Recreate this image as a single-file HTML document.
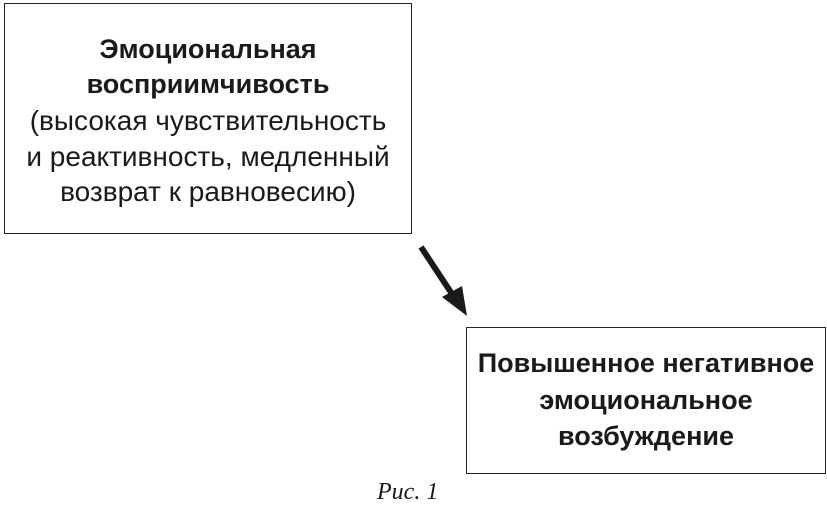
<!DOCTYPE html>
<html><head><meta charset="utf-8"><style>
body{margin:0;width:827px;height:526px;background:#fff;position:relative;overflow:hidden;font-family:"Liberation Sans","DejaVu Sans",sans-serif;color:#1a1a1a}
.box{position:absolute;border:1.5px solid #222;box-sizing:border-box}
.l{position:absolute;left:0;right:0;text-align:center;font-size:28px;white-space:nowrap}
.b{font-weight:bold;font-size:27px}
</style></head><body>
<div class="box" style="left:4px;top:3px;width:408px;height:231px">
<div class="l b" style="top:30px">Эмоциональная</div>
<div class="l b" style="top:65px">восприимчивость</div>
<div class="l" style="top:101px">(высокая чувствительность</div>
<div class="l" style="top:137px">и реактивность, медленный</div>
<div class="l" style="top:172px">возврат к равновесию)</div>
</div>
<div class="box" style="left:466px;top:327px;width:360px;height:147px">
<div class="l b" style="top:20px">Повышенное негативное</div>
<div class="l b" style="top:57px">эмоциональное</div>
<div class="l b" style="top:93px">возбуждение</div>
</div>
<svg style="position:absolute;left:0;top:0" width="827" height="526">
<line x1="421" y1="247" x2="454" y2="297" stroke="#1a1a1a" stroke-width="6"/>
<polygon points="467,316 442,297 462,286" fill="#1a1a1a"/>
</svg>
<div style="position:absolute;left:377px;top:479px;font-family:'Liberation Serif',serif;font-style:italic;font-size:24px">Рис. 1</div>
</body></html>
